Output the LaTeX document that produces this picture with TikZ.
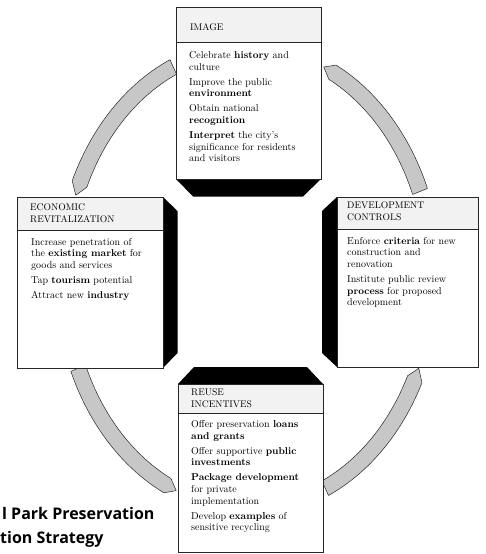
\documentclass[tikz,border=0pt]{standalone}
\usepackage{fontspec}
\newfontfamily\capfont{Open Sans}
\newcommand\ringarrow[3]{% flat end angle, band end angle, tip angle
  \filldraw[band] plot[domain=#1:#2,samples=30] ({248.5+193*cos(\x)},{278+239*sin(\x)})
   -- ({248.5+185*cos(#3)},{278+231*sin(#3)})
   -- plot[domain=#2:#1,samples=30] ({248.5+177*cos(\x)},{278+223*sin(\x)}) -- cycle;}
\begin{document}
\begin{tikzpicture}[x=1pt,y=-1pt,
  frame/.style={draw=black!85, line width=0.6pt, fill=white, inner sep=0pt, anchor=north west},
  headfill/.style={fill=black!5},
  rule/.style={draw=black!85, line width=0.6pt},
  shadow/.style={fill=black},
  band/.style={fill=black!22, draw=black!85, line width=0.5pt, line join=round},
  head/.style={anchor=north west, align=left, inner sep=0pt, font=\fontsize{9.6}{12}\selectfont},
  body/.style={anchor=north west, align=left, inner sep=0pt, font=\fontsize{10}{11.7}\selectfont},
  caption/.style={anchor=base west, inner sep=0pt, font=\capfont\bfseries\fontsize{16}{19}\selectfont},
]
\useasboundingbox (0,0) rectangle (485,554);

% ring of arrows
\ringarrow{338}{297}{294}
\ringarrow{246}{204}{201}
\ringarrow{157}{116}{113}
\ringarrow{65.5}{26}{23}

% IMAGE
\fill[shadow] (176,179) -- (321,179) -- (303,196.5) -- (193,196.5) -- cycle;
\node[frame, minimum width=145, minimum height=172] (image) at (176,7) {};
\fill[headfill] (176.3,7.3) rectangle (320.7,42);
\draw[rule] (image.north west) rectangle (image.south east);
\draw[rule] (176,42) -- (321,42);
% north west = first baseline minus strut height (8.4 for heads, 8.19 for body)
\node[head] (imageh) at (190,22.3) {\strut IMAGE};
\node[body] (imageb) at (189,50.1) {\strut Celebrate \textbf{history} and\\culture\\[3.3pt]
Improve the public\\\textbf{environment}\\[3.3pt]
Obtain national\\\textbf{recognition}\\[3.3pt]
\textbf{Interpret} the city's\\significance for residents\\and visitors};

% ECONOMIC REVITALIZATION
\fill[shadow] (163,197) -- (177.5,211) -- (177.5,353) -- (163,368) -- cycle;
\node[frame, minimum width=146, minimum height=171] (econ) at (17,197) {};
\fill[headfill] (17.3,197.3) rectangle (162.7,230);
\draw[rule] (econ.north west) rectangle (econ.south east);
\draw[rule] (17,230) -- (163,230);
\node[head] (econh) at (30,201.6) {\strut ECONOMIC\\REVITALIZATION};
\node[body] (econb) at (31,236.8) {\strut Increase penetration of\\the \textbf{existing market} for\\goods and services\\[3.3pt]
Tap \textbf{tourism} potential\\[3.3pt]
Attract new \textbf{industry}};

% DEVELOPMENT CONTROLS
\fill[shadow] (337,197) -- (322,211) -- (322,353) -- (337,367) -- cycle;
\node[frame, minimum width=141, minimum height=170] (dev) at (337,197) {};
\fill[headfill] (337.3,197.3) rectangle (477.7,229);
\draw[rule] (dev.north west) rectangle (dev.south east);
\draw[rule] (337,229) -- (478,229);
\node[head] (devh) at (347,200.1) {\strut DEVELOPMENT\\CONTROLS};
\node[body] (devb) at (347,235.8) {\strut Enforce \textbf{criteria} for new\\construction and\\renovation\\[3.3pt]
Institute public review\\\textbf{process} for proposed\\development};

% REUSE INCENTIVES
\fill[shadow] (178,384) -- (194,367) -- (307,367) -- (323,384) -- cycle;
\node[frame, minimum width=145, minimum height=168] (reuse) at (178,384) {};
\fill[headfill] (178.3,384.3) rectangle (322.7,413.3);
\draw[rule] (reuse.north west) rectangle (reuse.south east);
\draw[rule] (178,413.3) -- (323,413.3);
\node[head] (reuseh) at (191,386.6) {\strut REUSE\\INCENTIVES};
\node[body] (reuseb) at (191,419.1) {\strut Offer preservation \textbf{loans}\\\textbf{and grants}\\[3.3pt]
Offer supportive \textbf{public}\\\textbf{investments}\\[3.3pt]
\textbf{Package development}\\for private\\implementation\\[3.3pt]
Develop \textbf{examples} of\\sensitive recycling};

% caption (cut off at the left edge)
\node[caption] (cap1) at (2,519) {l Park Preservation};
\node[caption] (cap2) at (0,543) {tion Strategy};
\end{tikzpicture}
\end{document}
